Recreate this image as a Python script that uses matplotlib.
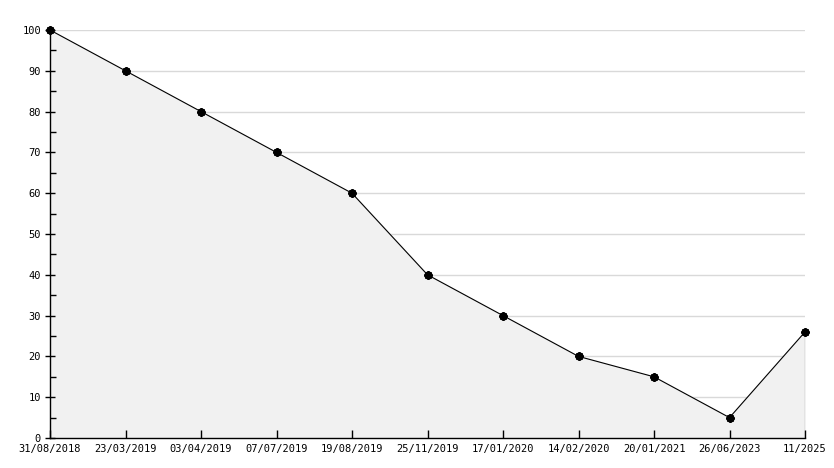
import matplotlib
matplotlib.use("Agg")
from matplotlib import pyplot as plt
from matplotlib.ticker import MultipleLocator

dates = ['31/08/2018', '23/03/2019', '03/04/2019', '07/07/2019', '19/08/2019',
         '25/11/2019', '17/01/2020', '14/02/2020', '20/01/2021', '26/06/2023', '11/2025']
values = [100, 90, 80, 70, 60, 40, 30, 20, 15, 5, 26]

x = list(range(len(dates)))

plt.rcParams['font.family'] = ['DejaVu Sans Mono']

fig = plt.figure(figsize=(8.34, 4.68), dpi=100)
ax = fig.add_axes([50 / 834, 30 / 468, 755 / 834, 408 / 468])

# grid lines first, so the fill covers them
for v in range(10, 101, 10):
    ax.axhline(v, color='#d9d9d9', linewidth=1, zorder=0)

ax.fill_between(x, values, 0, color='#f1f1f1', zorder=1)
ax.plot(x, values, color='black', linewidth=0.8, zorder=3)
ax.plot([x[-1], x[-1]], [0, values[-1]], color='black', linewidth=0.8, zorder=3)
ax.plot(x, values, linestyle='none', marker=(8, 2, 0), markersize=6,
        color='black', markeredgewidth=1.6, zorder=4, clip_on=False)

ax.set_xlim(0, len(dates) - 1)
ax.set_ylim(0, 100)
ax.set_xticks(x)
ax.set_xticklabels(dates)
ax.yaxis.set_major_locator(MultipleLocator(10))
ax.yaxis.set_minor_locator(MultipleLocator(5))

for s in ['top', 'right']:
    ax.spines[s].set_visible(False)
ax.spines['left'].set_linewidth(1)
ax.spines['bottom'].set_linewidth(1)

ax.tick_params(axis='x', direction='in', length=6, width=1, labelsize=7.5, pad=4)
ax.tick_params(axis='y', which='major', direction='inout', length=7, width=1, labelsize=7.5, pad=3)
ax.tick_params(axis='y', which='minor', direction='in', length=4, width=1)

fig.savefig('out.png', dpi=100)
